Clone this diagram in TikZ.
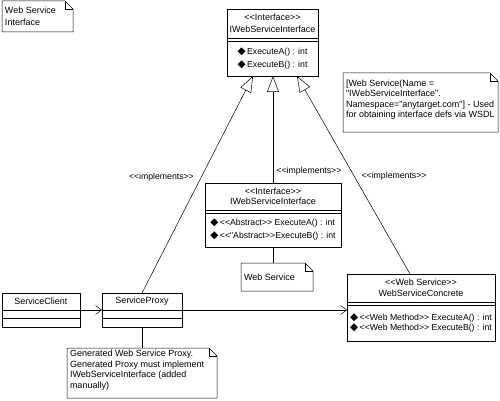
\documentclass[tikz,border=0pt]{standalone}
\usepackage{fontspec}
\setmainfont{Liberation Sans}[Ligatures=TeXOff]
\newfontfamily\symfont{DejaVu Sans}
\usepackage{tikz}
\usetikzlibrary{arrows.meta, positioning}

\newcommand{\opmark}{{\symfont\fontsize{10.5}{10}\selectfont\char"25C6}\hspace{1.5pt}}
\newcommand{\notefold}[1]{%
  \draw (#1.south west) -- (#1.north west) -- ([xshift=-8pt]#1.north east)
    -- ([yshift=-8pt]#1.north east) -- (#1.south east) -- cycle;
  \draw ([xshift=-8pt]#1.north east) |- ([yshift=-8pt]#1.north east);}

\begin{document}
\begin{tikzpicture}[
  x=1pt, y=-1pt, line width=0.5pt,
  font=\fontsize{9}{10.5}\selectfont,
  head/.style={draw, inner sep=0pt, outer sep=0pt, align=center, anchor=north west},
  attr/.style={draw, inner sep=0pt, outer sep=0pt, below=0pt of #1},
  ops/.style={draw, inner sep=0pt, outer sep=0pt, align=left, below=0pt of #1,
    font=\fontsize{8.7}{10.5}\selectfont},
  note/.style={inner sep=3pt, outer sep=0pt, anchor=north west},
  impl/.style={-{Triangle[open, length=16pt, width=12pt]}},
  assoc/.style={-{Straight Barb[length=6pt, width=9pt]}},
  stereo/.style={font=\fontsize{8.7}{10}\selectfont}
]
  \useasboundingbox (0,0) rectangle (500,401);

  \node[note, text height=10pt, text depth=15pt] (titlenote) at (2,1)
    {\parbox[t]{65pt}{Web Service\\[1pt]Interface}};

  \node[head, minimum width=91pt, minimum height=29pt] (ifaceh) at (227,9)
    {<<Interface>>\\[2pt]IWebServiceInterface};
  \node[attr=ifaceh, minimum width=91pt, minimum height=3pt] (ifacea) {};
  \node[ops=ifacea, minimum width=91pt, minimum height=35pt] (ifaceo)
    {\opmark ExecuteA() : int\\[2.5pt]\opmark ExecuteB() : int};

  \node[note, text height=10.5pt, text depth=42.5pt] (wsdlnote) at (343,73)
    {\parbox[t]{149pt}{[Web Service(Name =\\"IWebServiceInterface".\\Namespace="anytarget.com"] - Used\\for obtaining interface defs via WSDL}};

  \node[head, minimum width=136pt, minimum height=27pt] (midh) at (205,183)
    {<<Interface>>\\IWebServiceInterface};
  \node[attr=midh, minimum width=136pt, minimum height=3pt] (mida) {};
  \node[ops=mida, minimum width=136pt, minimum height=34pt] (mido)
    {\opmark <<Abstract>> ExecuteA() : int\\[2.5pt]\opmark <<"Abstract>>ExecuteB() : int};

  \node[note, text height=14pt, text depth=8pt] (wsnote) at (241,263)
    {\parbox[t]{66pt}{Web Service}};

  \node[head, minimum width=78pt, minimum height=17pt] (clienth) at (2,293) {ServiceClient};
  \node[attr=clienth, minimum width=78pt, minimum height=8pt] (clienta) {};
  \node[attr=clienta, minimum width=78pt, minimum height=9pt] (cliento) {};

  \node[head, minimum width=80pt, minimum height=17pt] (proxyh) at (102,293) {ServiceProxy};
  \node[attr=proxyh, minimum width=80pt, minimum height=8pt] (proxya) {};
  \node[attr=proxya, minimum width=80pt, minimum height=9pt] (proxyo) {};

  \node[head, minimum width=148pt, minimum height=28pt] (wsch) at (347,274)
    {<<Web Service>>\\WebServiceConcrete};
  \node[attr=wsch, minimum width=148pt, minimum height=3pt] (wsca) {};
  \node[ops=wsca, minimum width=148pt, minimum height=36pt] (wsco)
    {\opmark <<Web Method>> ExecuteA() : int\\\opmark <<Web Method>> ExecuteB() : int};

  \node[note, text height=5.5pt, text depth=38.5pt] (proxynote) at (67,348)
    {\parbox[t]{144pt}{Generated Web Service Proxy.\\Generated Proxy must implement\\IWebServiceInterface (added\\manually)}};

  \notefold{titlenote}
  \notefold{wsdlnote}
  \notefold{wsnote}
  \notefold{proxynote}

  \draw[impl] (proxyh.north) -- node[pos=0.535, left, stereo, xshift=-4pt]{<<implements>>} ([xshift=-19.5pt]ifaceo.south);
  \draw[impl] (midh.north) -- node[pos=0.11, right, stereo]{<<implements>>} (midh.north |- ifaceo.south);
  \draw[impl] ([xshift=-11pt]wsch.north) -- node[pos=0.495, right, stereo, xshift=4pt]{<<implements>>} ([xshift=24.5pt]ifaceo.south);
  \draw (mido.south) -- (mido.south |- wsnote.north);
  \draw[assoc] (clienth.south east) -- (proxyh.south west);
  \draw[assoc] (proxyh.south east) -- (proxyh.south east -| wsch.west);
  \draw (proxyo.south) -- (proxyo.south |- proxynote.north);
\end{tikzpicture}
\end{document}
